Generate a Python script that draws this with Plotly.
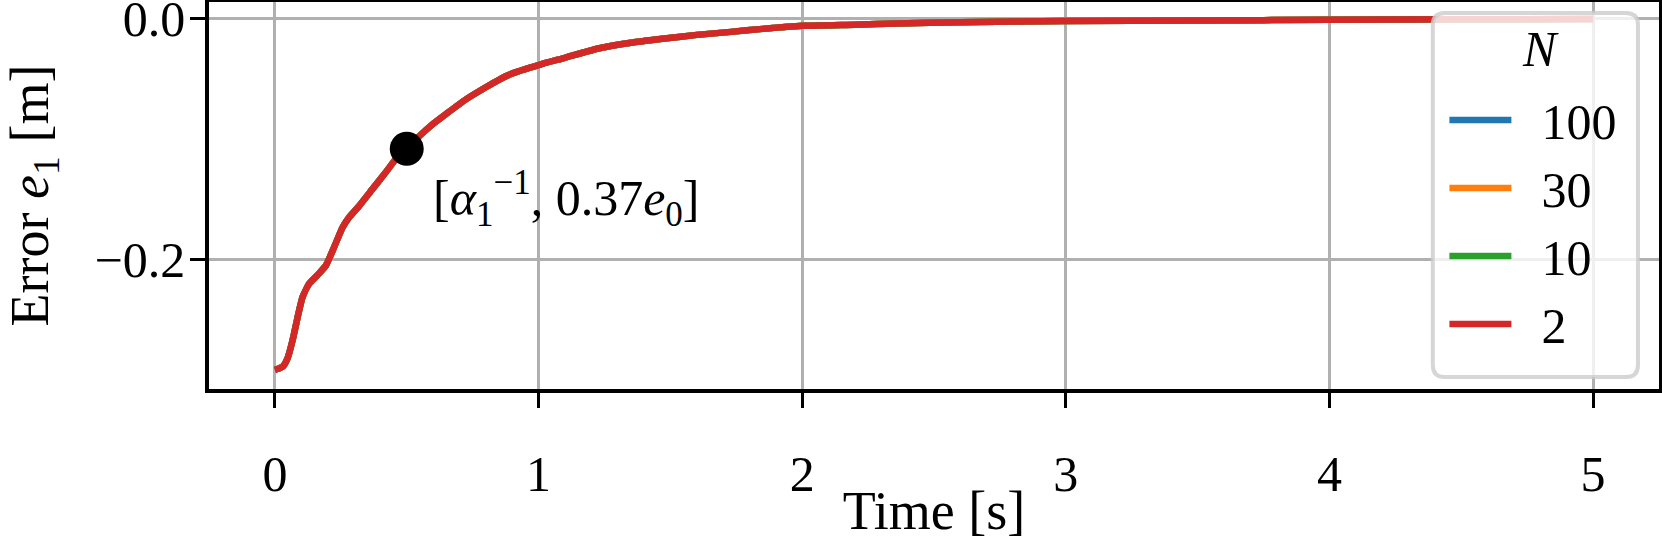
import plotly.graph_objects as go

# error e1 over time (all N curves overlap)
time_s = [0.0, 0.004, 0.029, 0.048, 0.067, 0.086, 0.105, 0.130, 0.161, 0.193,
          0.224, 0.256, 0.281, 0.319, 0.369, 0.419, 0.457, 0.5, 0.55, 0.596,
          0.65, 0.722, 0.8, 0.848, 0.9, 1.0, 1.1, 1.226, 1.35, 1.478, 1.6,
          1.73, 1.85, 2.0, 2.2, 2.36, 2.6, 3.0, 3.5, 4.0, 4.5, 5.0]
error_e1 = [-0.2915, -0.2912, -0.289, -0.282, -0.267, -0.248, -0.231, -0.220,
            -0.213, -0.205, -0.190, -0.1735, -0.165, -0.1556, -0.1417, -0.128,
            -0.117, -0.108, -0.097, -0.088, -0.079, -0.0674, -0.057, -0.051,
            -0.0455, -0.0385, -0.0325, -0.0248, -0.020, -0.0165, -0.0135,
            -0.011, -0.0085, -0.006, -0.005, -0.004, -0.003, -0.002, -0.0015,
            -0.001, -0.0006, -0.0003]

horizons = ["100", "30", "10", "2"]
colors = ["#1f77b4", "#ff7f0e", "#2ca02c", "#d62728"]

marker_t = [0.5]
marker_e = [-0.108]
marker_label = "[<i>α</i><sub>1</sub><sup>−1</sup>, 0.37<i>e</i><sub>0</sub>]"

x_ticks = [0, 1, 2, 3, 4, 5]
y_ticks = [-0.2, 0.0]

FONT = "Liberation Serif"
FS = 50
FT = 54
W, H = 1662, 541
ML, MR, MT, MB = 209, 3, 2, 152

fig = go.Figure()
for n, c in zip(horizons, colors):
    fig.add_trace(go.Scatter(x=time_s, y=error_e1, mode="lines",
                             name="\u00a0\u00a0" + n,
                             line=dict(color=c, width=6.5, shape="spline",
                                       smoothing=0.5)))

fig.add_trace(go.Scatter(x=marker_t, y=marker_e, mode="markers",
                         marker=dict(color="black", size=34),
                         showlegend=False))
fig.add_annotation(x=marker_t[0], y=marker_e[0], text=marker_label,
                   showarrow=False, xanchor="left", yanchor="middle",
                   xshift=24, yshift=-50, font=dict(size=FS, color="black"))

# rounded legend frame (matplotlib style)
pw, ph = W - ML - MR, H - MT - MB
x0, x1, y0, y1 = 0.844, 0.9855, 0.031, 0.9716
rx, ry = 12 / pw, 12 / ph
path = (f"M{x0+rx},{y0} L{x1-rx},{y0} Q{x1},{y0} {x1},{y0+ry} "
        f"L{x1},{y1-ry} Q{x1},{y1} {x1-rx},{y1} L{x0+rx},{y1} "
        f"Q{x0},{y1} {x0},{y1-ry} L{x0},{y0+ry} Q{x0},{y0} {x0+rx},{y0} Z")
fig.add_shape(type="path", path=path, xref="paper", yref="paper",
              fillcolor="rgba(255,255,255,0.8)",
              line=dict(color="rgba(204,204,204,0.8)", width=4), layer="above")

# legend title
fig.add_annotation(x=0.918, y=0.879, xref="paper", yref="paper", text="<i>N</i>",
                   showarrow=False, xanchor="center", yanchor="middle",
                   font=dict(size=FS, color="black"))

axis_common = dict(showline=True, linecolor="black", linewidth=3.5, mirror=True,
                   showgrid=True, gridcolor="#b0b0b0", gridwidth=3.3,
                   zeroline=False, ticks="outside", ticklen=15, tickwidth=3.3,
                   tickcolor="black", tickfont=dict(size=FS), automargin=False,
                   ticklabeloverflow="allow")

fig.update_xaxes(range=[-0.25, 5.25], tickvals=x_ticks, ticklabelstandoff=23,
                 title=dict(text="Time [s]", font=dict(size=FT), standoff=0),
                 **axis_common)
fig.update_yaxes(range=[-0.3074, 0.0138], tickvals=y_ticks, tickformat=".1f",
                 ticklabelstandoff=-5,
                 title=dict(text="Error <i>e</i><sub>1</sub> [m]",
                            font=dict(size=FT), standoff=34),
                 **axis_common)

fig.update_layout(
    width=W, height=H,
    margin=dict(l=ML, r=MR, t=MT, b=MB, autoexpand=False),
    paper_bgcolor="white", plot_bgcolor="white",
    font=dict(family=FONT, color="black"),
    legend=dict(x=x0 + 0.008, y=0.796, xanchor="left", yanchor="top",
                bgcolor="rgba(0,0,0,0)", borderwidth=0, itemwidth=62,
                font=dict(size=FS)),
)

fig.write_html("out.html", config={"displayModeBar": False},
               post_script="document.body.style.margin='0';")
